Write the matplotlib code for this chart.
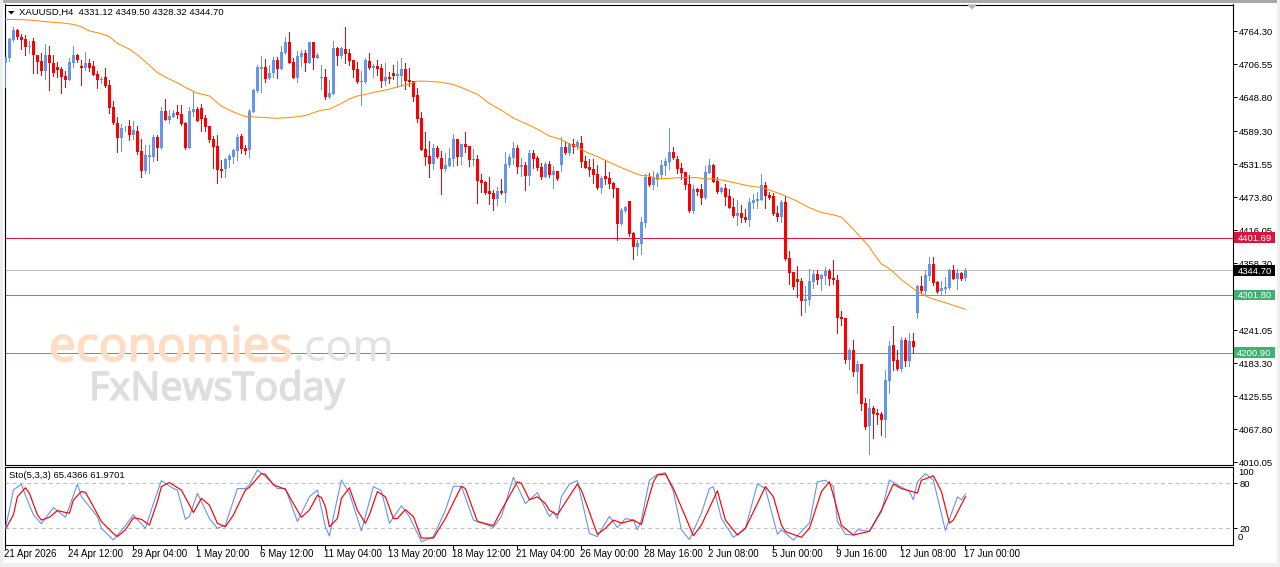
import matplotlib
matplotlib.use("Agg")
import matplotlib.pyplot as plt
import matplotlib.patheffects as pe
from matplotlib.patches import Rectangle, Polygon
from matplotlib.transforms import ScaledTranslation

W, H = 1280, 567
UP = "#6495ED"
DOWN = "#FF0000"
FONT = "Liberation Sans"
FS = 7.0
FSY = 6.8

opens = [
 4708,4717,4748,4765.5,4753,4750,4735,4746,4722,4711,
 4694,4722,4708,4701,4697,4685,4678,4708,4722,4702.5,
 4699,4708,4702.5,4688.5,4678,4683,4669,4631,4603,4576.5,
 4592,4597.5,4582,4589,4554,4519,4543,4543,4578,4559,
 4624,4608,4613,4622,4618.5,4603,4559,4622,4627,4629,
 4611.5,4597.5,4575,4562.5,4522,4522,4538,4543,4554,4580,
 4559,4555.5,4622,4659,4698,4701,4681,4690,4713,4698,
 4725,4744.5,4709.5,4681.5,4718,4725,4708,4744.5,4717,4681.5,
 4683,4648,4653.5,4734,4720,4732,4725,4713,4697,4674.5,
 4674.5,4711,4699,4702.5,4699,4676,4683,4690,4685,4685,
 4697,4678,4676,4652,4611.5,4557,4545,4531,4559,4541.5,
 4522,4527.5,4540,4575,4543,4566,4562.5,4538,4540,4503,
 4499.5,4484,4480,4470,4484,4480,4529,4541.5,4559,4526,
 4529,4510,4550,4541.5,4526,4508,4531,4512,4519,4529,
 4561,4550,4566,4561,4568,4536,4526,4522,4513.5,4489,
 4510,4506.5,4498,4489,4426,4449,4466,4410,4386,4391,
 4428,4509,4494,4503,4512,4527.5,4534.5,4552,4540,4524,
 4517,4496,4449,4487,4487,4471.5,4515,4529,4501,4482,
 4489,4475,4456,4440,4445,4438,4433,4463,4466,4468,
 4494,4477,4475,4445,4438,4464.5,4366.5,4342,4330,4326,
 4291,4293,4324.5,4338.5,4330,4335,4344,4331.5,4328,4263,
 4261.5,4188,4205.5,4167,4181,4112.5,4072.5,4104,4095,4093.5,
 4083,4151,4214,4188,4172,4223,4186,4221,4270,4317.5,
 4309,4335,4356,4324.5,4309,4312,4314,4345.5,4330,4340,4331.12,
]
closes = [
 4719,4749,4765.5,4753,4748,4735,4737.5,4721,4709.5,4694,
 4722,4707,4691,4696,4684,4678,4709.5,4722,4713,4699,
 4707,4699,4687,4678,4680,4667,4629,4603,4576.5,4594,
 4593,4582,4590.5,4552,4519,4547,4547,4578,4559,4624,
 4608,4615,4620,4617,4601,4559,4624,4627,4607,4610,
 4596,4573,4561,4520.5,4519,4540,4545,4555.5,4578,4557,
 4554,4624,4660.5,4701,4701,4680,4690,4713,4697,4727,
 4744.5,4708,4681.5,4720,4725,4708,4744.5,4717,4722,4683,
 4648,4655,4734,4720,4734,4723.5,4711,4695.5,4674.5,4676,
 4713,4699,4702.5,4697,4676,4683,4680,4685,4688.5,4697,
 4676,4674.5,4648,4610,4555.5,4543,4531,4559,4543,4522,
 4529,4541.5,4575,4543,4566,4561,4538,4540,4501,4498,
 4480,4478.5,4470,4484,4480,4531,4543,4559,4526,4529,
 4510,4550,4540,4524,4508,4531,4512,4519,4505,4561,
 4550,4566,4561,4569.5,4534.5,4524,4520.5,4512,4489,4506.5,
 4505,4496,4487,4426,4450.5,4456,4408.5,4386,4393,4429.5,
 4509,4494,4507,4513.5,4529,4536,4552,4541.5,4522,4515,
 4494,4449,4487,4482,4471.5,4517,4529,4499.5,4482,4489,
 4473,4454,4440,4445,4436.5,4433,4464.5,4468,4470,4494,
 4475,4471.5,4443.5,4438,4464.5,4365,4340,4316,4324.5,4291,
 4295,4326,4338.5,4328,4337,4344,4330,4328,4261.5,4260,
 4188,4205.5,4167,4181,4111,4071,4104,4093.5,4092,4083,
 4153,4212.5,4186,4172,4223,4186,4221,4211,4317.5,4309,
 4337,4356,4323,4307,4314,4316,4345.5,4330,4340,4330,4344.7,
]
highs = [
 4719,4751,4770,4768,4758.5,4757,4747,4751,4722,4725,
 4741,4738,4722,4710,4700,4693,4716,4737.5,4724,4713,
 4727,4715,4711,4694,4684,4699,4678,4641,4614,4601,
 4598,4608,4606,4597.5,4575,4564,4564,4582,4582,4631,
 4645,4625.5,4625.5,4634,4634,4604.5,4630,4659,4631,4636,
 4617,4597.5,4580,4582,4538,4541,4548.5,4557,4583.5,4583.5,
 4564,4627,4662,4704,4720,4715,4704,4718,4718,4738,
 4754,4762,4716,4728,4730.5,4730.5,4744.5,4745,4726,4704,
 4698,4678,4746,4736,4736,4771,4732,4713,4709.5,4694,
 4716.5,4725,4706,4713,4706,4708,4692,4704,4711,4716.5,
 4708,4699,4676,4664,4622,4587,4571,4566,4562.5,4554,
 4550,4559,4583.5,4575,4566,4587,4562.5,4557,4547,4513.5,
 4501,4508,4485.5,4491,4505,4552,4548.5,4569.5,4564,4541.5,
 4534.5,4555.5,4555.5,4545,4533,4534.5,4536,4527.5,4519,4578,
 4569.5,4568,4575,4573,4580,4545,4540,4540,4529,4510,
 4538,4517,4499.5,4489,4454,4457.5,4466,4412,4398,4439,
 4513.5,4515,4519,4517,4538,4541.5,4594,4561,4545,4533,
 4517,4512,4494,4489,4496,4527.5,4540,4531.5,4508,4491,
 4496,4487,4471.5,4468,4459,4452,4471.5,4478.5,4482,4513.5,
 4499.5,4482,4480,4457.5,4468,4475,4379,4342,4352.5,4331.5,
 4317.5,4347,4345.5,4345.5,4338.5,4351,4347,4363,4337,4274,
 4261.5,4209,4223,4186,4181,4121.5,4120,4107.5,4102,4097,
 4170.5,4221,4247.5,4205.5,4228,4226.5,4235,4235,4319,4335,
 4345.5,4368,4368,4326,4326,4333,4347,4354,4347,4342,4349.5,
]
lows = [
 4665,4711,4747,4749,4732,4721,4726,4691,4690,4687,
 4680,4660.5,4685,4684,4656,4666,4678,4701,4709,4669,
 4695.5,4694,4686,4664,4672,4665,4621,4601,4552,4554,
 4589,4573,4575,4548.5,4509,4516,4516,4537,4538,4557,
 4608,4603,4613,4611.5,4599,4557,4559,4615,4606,4589,
 4589,4570,4524,4498,4509,4509,4526,4532,4538,4550,
 4548.5,4544,4622,4657,4657,4675,4679,4683,4681,4698,
 4723,4707,4681.5,4674.5,4702.5,4694,4707,4698,4716,4663,
 4645,4647,4653.5,4704,4716.5,4707,4704,4683,4673,4634,
 4672,4697,4683,4687,4666,4669,4672,4680,4665,4667.5,
 4662,4667.5,4641,4604.5,4555.5,4529,4508,4522,4541.5,4478.5,
 4519,4527.5,4527.5,4529,4531,4552,4527.5,4529,4463,4482,
 4478.5,4461,4450.5,4459,4478.5,4464.5,4526,4531,4515,4510,
 4485.5,4494,4524,4520.5,4505,4508,4508,4489,4503,4519,
 4548.5,4547,4550,4557,4526,4524,4510,4498,4487,4480,
 4496,4489,4473,4398,4424,4447,4405,4365,4372,4373.5,
 4420,4492.5,4487,4492.5,4506,4512,4522,4540,4515,4505,
 4487,4447,4445,4477,4461,4470,4515,4499.5,4480,4480,
 4459,4454,4438,4424,4429.5,4429.5,4422.5,4453.5,4453.5,4468,
 4454,4470,4442,4431,4429.5,4363,4321,4312,4298,4267,
 4272,4284,4314,4321,4310.5,4321,4319,4321,4235,4249,
 4183,4172,4160,4130,4100.5,4067,4023.5,4051.5,4076,4057,
 4053,4130,4170.5,4170.5,4169,4177.5,4177.5,4200,4261.5,4305,
 4302,4328,4319,4305,4303.5,4305,4312,4330,4312,4328,4328.32,
]

ma_bars = [0,4,6,11,14,17,19,21,24,26,28,31,33,35,38,40,43,45,48,51,54,57,60,63,68,72,75,78,
           79,81,84,86,88,90,93,96,99,101,103,105,109,112,115,118,121,124,127,130,133,136,139,141,143,145,148,151,154,157,158,
           159,161,163,166,170,173,175,177,180,183,186,189,191,194,197,199,201,204,207,209,211,212,214,216,217,219,221,224,228,231,236,240]
ma_values = [4784,4783.6,4783,4779.5,4778,4775.4,4771,4764,4759,4754,4742,4732,4722,4710,4691,4683,4673,4665,4655,4650,4632.5,4622,4614,4613,4611,4613,4616,4623,
             4625,4627,4637,4645,4650,4653,4657.6,4662,4668,4671,4676,4676,4674,4670,4662,4653,4637,4625,4611.5,4602,4592,4580,4574,4566,4561,4552.6,4544,4534,4524.6,4516,4513,
             4511,4510,4505,4506,4507.7,4507,4505,4505,4502,4497,4492.5,4490,4485.5,4478,4469,4462,4454.6,4446,4442,4438,4424,4417,4401,4386,4375,4356,4348,4328.6,4307.6,4297,4286,4276.7]

sto_main_bars = [0,1,2,4,5,7,9,12,15,16,18,19,21,23,24,27,30,32,35,37,39,42,43,45,46,48,51,53,55,58,60,61,63,65,68,70,73,76,78,80,
                 81,82,84,86,89,92,94,96,99,101,104,107,110,112,114,117,119,122,124,127,130,133,136,137,138,139,141,143,146,148,151,153,155,157,158,
                 159,160,161,163,165,167,169,171,174,176,177,179,182,185,188,190,193,194,197,201,203,205,207,208,210,212,213,216,219,221,223,226,227,228,230,232,235,238,239,240]
sto_main = [20,44.4,71,79,64,38,26,47.6,34.7,49,79,62,49,35.6,20,4.4,23.6,38,20,53,83.6,73,71,32,35.6,66.7,33,20,24.4,73,73,77.8,97.8,89,73,73,29,62,71,22,
            9.8,35.6,84.4,66.7,16.4,75.6,70,26.7,50,35.6,2,9,44,76,76,31,27.6,21,35.6,88,53,67.6,35.6,42,33,62,79,83.6,13,9,36,21,33,31,18,
            31,58,84,92,94,69,18,5,40,73,75.6,33,8,20,79,73,12,18,4.4,27,82,84,75.6,29,12,11,18,16,42,84.4,78,69,58,82,93,84,17,62,58,65.44]
sto_sig_bars = [0,2,3,5,6,8,9,11,13,16,17,19,20,22,24,27,28,30,32,34,36,38,39,41,44,47,49,51,53,55,57,60,61,64,65,67,70,72,74,76,78,79,80,81,83,
                84,86,88,90,91,93,95,97,98,100,102,104,107,110,114,115,118,122,124,128,129,131,133,135,136,138,142,143,144,148,150,152,154,157,159,
                160,162,163,165,167,170,172,174,178,180,183,185,188,190,192,194,195,199,201,204,206,207,209,212,216,219,222,224,228,229,232,234,236,237,240]
sto_signal = [18.7,38,62,74,66.7,38,31,34.7,43.6,40,57.8,69,68,49,29,13,9,18,34,32,24.4,55.6,75.6,81,71,41,60,51,26.7,22,37.8,71,74.7,93,92,78,72,53,34.7,44.4,64,61,49,22,33,
              60,74,44,26.7,38,69,62,33,33,45,35.6,7,7,33,76,73,29,23.6,44,82,80,58,62,53,44,38,71,79,71,12,20,31,27,31,25,
              44.4,82,91,92.4,73,35.6,10,24.4,70,31,11,20,53,75.6,62,24.4,15.6,8,20,69,82,64,24,11,16,44,79,73,67,84,90,69,27,31,61.97]

price_ticks = [4764.30,4706.55,4648.80,4589.30,4531.55,4473.80,4416.05,4358.30,4241.05,4183.30,4125.55,4067.80,4010.05]
time_ticks = list(range(0, 241, 16))
time_labels = ["21 Apr 2026","24 Apr 12:00","29 Apr 04:00","1 May 20:00","6 May 12:00","11 May 04:00",
               "13 May 20:00","18 May 12:00","21 May 04:00","26 May 00:00","28 May 16:00","2 Jun 08:00",
               "5 Jun 00:00","9 Jun 16:00","12 Jun 08:00","17 Jun 00:00"]
levels = [4401.69, 4344.70, 4301.80, 4200.90]
level_colors = ["#DC143C", "#C0C0C0", "#3CB371", "#3CB371"]
tag_colors = ["#DC143C", "#000000", "#3CB371", "#3CB371"]

plt.rcParams["font.family"] = [FONT, "DejaVu Sans"]
fig = plt.figure(figsize=(W / 100, H / 100), dpi=100, facecolor="white")


def box(l, t, r, b):
    return [l / W, 1 - b / H, (r - l) / W, (b - t) / H]


def fig_rect(l, t, r, b, color):
    fig.add_artist(Rectangle((l / W, 1 - b / H), (r - l) / W, (b - t) / H, transform=fig.transFigure,
                             fc=color, ec="none", zorder=0))


def fig_poly(points, color):
    fig.add_artist(Polygon([(x / W, 1 - y / H) for x, y in points], transform=fig.transFigure,
                           fc=color, ec="none", zorder=6))


def shift(label, dx, dy):
    label.set_transform(label.get_transform() + ScaledTranslation(dx / 100, dy / 100, fig.dpi_scale_trans))


# window frame
fig_rect(0, 0, W, 2.5, "#A9A9A9")
fig_rect(0, 0, 2.5, H, "#EDEDED")
fig_rect(0, H - 4, W, H, "#EFEFEF")
fig_rect(W - 3, 0, W, H, "#EFEFEF")

ax = fig.add_axes(box(4.5, 4.5, 1232.5, 464.5))
sub = fig.add_axes(box(4.5, 466.5, 1232.5, 544.5))
xlim = ((4.5 - 5.4) / 4, (1232.5 - 5.4) / 4)
ax.set_xlim(*xlim)
ax.set_ylim(4010.05 + (461.7 - 464.5) * 1.75, 4010.05 + (461.7 - 4.5) * 1.75)
sub.set_xlim(*xlim)
sub.set_ylim(20 + (528.3 - 544.5) / 0.75, 20 + (528.3 - 466.5) / 0.75)

for a in (ax, sub):
    for s in a.spines.values():
        s.set_linewidth(0.8)
        s.set_color("black")
    a.yaxis.tick_right()
    a.tick_params(axis="y", length=2.9, width=0.72, pad=2.0, labelsize=FSY, colors="black")

# levels
for lev, col in zip(levels, level_colors):
    ax.axhline(lev, color=col, lw=0.72, zorder=1)

# watermark
thick = lambda c, w: [pe.withStroke(linewidth=w, foreground=c)]
fig.text(49 / W, 1 - 361 / H, "economies", color="#FFDCC4", fontsize=34.3, family="Noto Sans", zorder=3,
         path_effects=thick("#FFDCC4", 1.1))
fig.text(293 / W, 1 - 361 / H, ".com", color="#E2E2E2", fontsize=32, family="Noto Sans", zorder=3)
fig.text(89 / W, 1 - 400 / H, "FxNewsToday", color="#DEDEDE", fontsize=28.4, family="Noto Sans", zorder=3,
         path_effects=thick("#DEDEDE", 1.0))

# candles
bars = list(range(len(opens)))
bottoms = [min(o, c) for o, c in zip(opens, closes)]
heights = [abs(o - c) for o, c in zip(opens, closes)]
colors = [UP if c >= o else DOWN for o, c in zip(opens, closes)]
ax.vlines(bars, lows, highs, colors=colors, lw=0.72, zorder=4, antialiased=False)
ax.bar(bars, heights, bottom=bottoms, width=0.75, color=colors, lw=0, zorder=5, antialiased=False)

# moving average
ax.plot(ma_bars, ma_values, color="#FF8C00", lw=0.72, zorder=6)

# price axis
ax.set_xticks([])
ax.set_yticks(price_ticks)
ax.set_yticklabels([f"{p:.2f}" for p in price_ticks])
for lab in ax.get_yticklabels():
    lab.set_zorder(3)
    shift(lab, 0, -1.2)

# price tags
tag_tr = ax.get_yaxis_transform()
tag_w = 41 / 1228
for lev, col, lab_col in zip(levels, tag_colors, ["white"] * 4):
    ax.add_patch(Rectangle((1.0012, lev - 9.6), tag_w, 19.2, transform=tag_tr, fc=col, ec="none",
                           clip_on=False, zorder=20))
    ax.text(1.0012 + tag_w / 2, lev, f"{lev:.2f}", transform=tag_tr, color=lab_col, fontsize=FSY,
            ha="center", va="center_baseline", zorder=21, clip_on=False)

# header
fig_poly([(8, 11), (14.5, 11), (11.25, 14.5)], "black")
fig.text(19 / W, 1 - 12.5 / H, "XAUUSD,H4  4331.12 4349.50 4328.32 4344.70", fontsize=FSY, va="center", color="black")
fig_poly([(967, 4.5), (977, 4.5), (972, 9.5)], "#B4B4B4")

# stochastic
sub.axhline(80, color="#C0C0C0", lw=0.8, ls=(0, (3.5, 3)), zorder=1)
sub.axhline(20, color="#C0C0C0", lw=0.8, ls=(0, (3.5, 3)), zorder=1)
sub.plot(sto_main_bars, sto_main, color=UP, lw=0.8, zorder=3)
sub.plot(sto_sig_bars, sto_signal, color="#FF0000", lw=0.85, zorder=4)
sub.set_yticks([80, 20])
sub.set_yticklabels(["80", "20"])
for lab in sub.get_yticklabels():
    shift(lab, 0, -0.4)
sub.annotate("100", xy=(1, 100), xycoords=("axes fraction", "data"), xytext=(4, -3.2), textcoords="offset points",
             fontsize=FSY, va="center")
sub.annotate("0", xy=(1, 0), xycoords=("axes fraction", "data"), xytext=(4, 4.3), textcoords="offset points",
             fontsize=FSY, va="center")
sub.text(4.5 / 1228, 0.885, "Sto(5,3,3) 65.4366 61.9701", transform=sub.transAxes, fontsize=FSY, va="center")
sub.set_xticks(time_ticks)
sub.set_xticklabels(time_labels, ha="left")
sub.tick_params(axis="x", length=2.9, width=0.72, pad=1.0, labelsize=FS)
for lab in sub.get_xticklabels():
    shift(lab, -1.0, 0.8)

fig.savefig("out.png", dpi=100, facecolor="white")
